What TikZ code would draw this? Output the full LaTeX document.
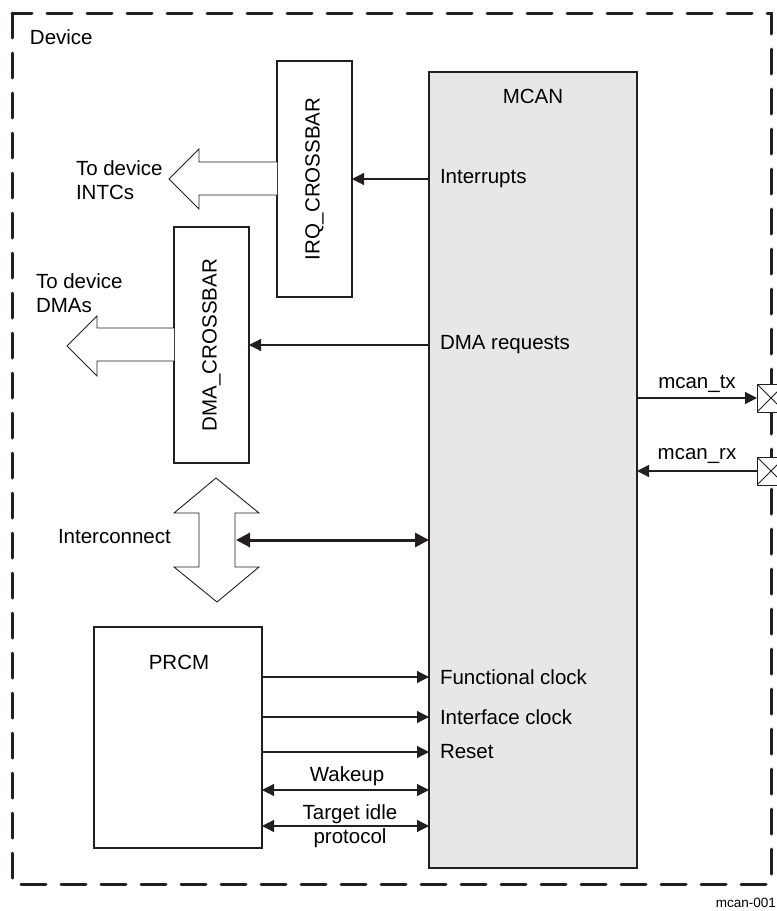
\documentclass[tikz,border=0pt]{standalone}
\usepackage{fontspec}
\setmainfont{Liberation Sans}
\usetikzlibrary{arrows.meta}
\definecolor{ink}{HTML}{231F20}
\definecolor{mcangray}{HTML}{E6E7E8}
\begin{document}
\begin{tikzpicture}[x=1pt,y=-1pt,
  font=\fontsize{20.5}{24}\selectfont,
  every node/.style={inner sep=0pt, outer sep=0pt},
  box/.style={draw=ink, line width=2.4pt, rectangle, anchor=north west},
  sig/.style={draw=ink, line width=1.2pt, -{Triangle[length=12pt,width=12pt]}},
  bisig/.style={draw=ink, line width=1.2pt, {Triangle[length=12pt,width=12pt]}-{Triangle[length=12pt,width=12pt]}},
  thickbi/.style={draw=ink, line width=3pt, {Triangle[length=14pt,width=14pt]}-{Triangle[length=14pt,width=14pt]}},
  hollow/.style={draw=ink, line width=0.9pt, fill=white, line join=miter},
  border/.style={draw=ink, line width=3pt, dash pattern=on 25pt off 15pt, line cap=round},
  pin/.style={draw=ink, fill=white, line width=1pt, minimum size=28pt,
    path picture={\draw[ink, line width=0.8pt] (path picture bounding box.north west) -- (path picture bounding box.south east)
      (path picture bounding box.north east) -- (path picture bounding box.south west);}}
]
\useasboundingbox (0,0) rectangle (777,911);
\clip (0,0) rectangle (777,911);

% device border
\draw[border] (12,13) rectangle (771,884);
\node[anchor=west] (device) at (30,37) {Device};

% MCAN
\node[box, fill=mcangray, minimum width=208pt, minimum height=796pt] (mcan) at (429,72) {};
\node (mcanlbl) at (533,96) {MCAN};
\node[anchor=west] (lint) at (440,179) {Interrupts};
\node[anchor=west] (ldma) at (440,345) {DMA requests};
\node[anchor=west] (lfck) at (440,677) {Functional clock};
\node[anchor=west] (lick) at (440,717) {Interface clock};
\node[anchor=west] (lrst) at (440,752) {Reset};

% crossbars
\node[box, minimum width=75pt, minimum height=236pt] (irq) at (277,61) {};
\node[rotate=90] (irqlbl) at (irq.center) {IRQ\_CROSSBAR};
\node[box, minimum width=75pt, minimum height=236pt] (dma) at (174,227) {};
\node[rotate=90] (dmalbl) at (dma.center) {DMA\_CROSSBAR};

\draw[sig] (mcan.west |- lint) -- (irq.east |- lint);
\draw[sig] (mcan.west |- ldma) -- (dma.east |- ldma);

% hollow arrows out of crossbars
\draw[hollow] (irq.west |- 0,162) -- (199,162) -- (199,149) -- (169,179) -- (199,209) -- (199,195) -- (irq.west |- 0,195);
\node[anchor=west, align=left] (tointc) at (76,180) {To device\\INTCs};
\draw[hollow] (dma.west |- 0,328) -- (97,328) -- (97,316) -- (67,346) -- (97,376) -- (97,361) -- (dma.west |- 0,361);
\node[anchor=west, align=left] (todma) at (36,293) {To device\\DMAs};

% interconnect
\draw[hollow] (216,478) -- (259,513) -- (235,513) -- (235,567) -- (259,567) -- (217,602)
  -- (174,567) -- (199,567) -- (199,513) -- (174,513) -- cycle;
\coordinate (icR) at (236,540);
\node[anchor=west] (iclbl) at (58,537) {Interconnect};
\draw[thickbi] (icR) -- (mcan.west |- icR);

% PRCM
\node[box, minimum width=168pt, minimum height=221pt] (prcm) at (94,627) {};
\node (prcmlbl) at (179,662) {PRCM};
\draw[sig] (prcm.east |- lfck) -- (mcan.west |- lfck);
\draw[sig] (prcm.east |- lick) -- (mcan.west |- lick);
\draw[sig] (prcm.east |- lrst) -- (mcan.west |- lrst);
\coordinate (wk) at (0,790);
\coordinate (ti) at (0,826);
\draw[bisig] (prcm.east |- wk) -- (mcan.west |- wk);
\draw[bisig] (prcm.east |- ti) -- (mcan.west |- ti);
\node (wklbl) at (347,776) {Wakeup};
\node[align=center] (tilbl) at (350,826) {Target idle\\protocol};

% pins
\node[pin] (tx) at (771,398) {};
\node[pin] (rx) at (771,471) {};
\draw[sig] (mcan.east |- tx) -- (tx.west);
\draw[sig] (rx.west) -- (mcan.east |- rx);
\node[anchor=base] (txlbl) at (697,388) {mcan\_tx};
\node[anchor=base] (rxlbl) at (697,459) {mcan\_rx};

\node[anchor=east, font=\fontsize{13.5}{16}\selectfont] (fig) at (776,903) {mcan-001};
\end{tikzpicture}
\end{document}
